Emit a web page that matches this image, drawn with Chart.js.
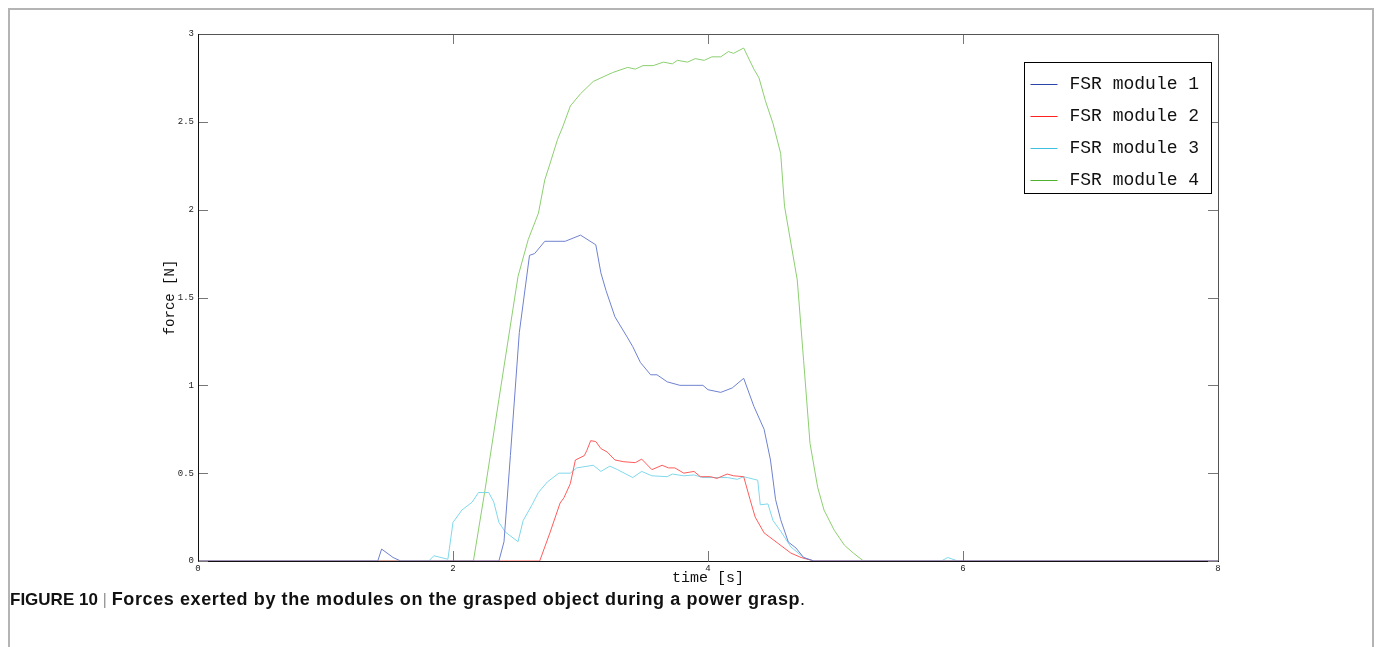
<!DOCTYPE html>
<html>
<head>
<meta charset="utf-8">
<title>FSR forces</title>
<script src="https://cdn.jsdelivr.net/npm/chart.js"></script>
<style>
  body { margin: 0; width: 1376px; height: 647px; overflow: hidden; background: #fff; position: relative; }
  #frame { position: absolute; left: 8px; top: 8px; width: 1362px; height: 650px;
           border-top: 2px solid #b4b4b4; border-left: 2px solid #b4b4b4; border-right: 2px solid #b4b4b4; }
  #plot { position: absolute; left: 0; top: 0; }
  #caption { position: absolute; left: 10px; top: 589px; font: bold 17px "Liberation Sans", Arial, sans-serif;
             color: #111; white-space: nowrap; }
  #caption .sep { font-weight: normal; color: #999; }
  #caption .txt { font-size: 18px; letter-spacing: 0.6px; }
  #caption .dot { font-weight: normal; font-size: 18px; }
</style>
</head>
<body>
<div id="frame"></div>
<canvas id="plot" width="1376" height="647"></canvas>
<div id="caption">FIGURE 10 <span class="sep">|</span> <span class="txt">Forces exerted by the modules on the grasped object during a power grasp</span><span class="dot">.</span></div>
<script>
// значения (время, с / сила, Н)
const seriesNames = ['FSR module 1', 'FSR module 2', 'FSR module 3', 'FSR module 4'];
const seriesColors = ['#6f82d0', '#ff5c5c', '#80d8ec', '#8ccf70'];
const legendColors = ['#2a45a8', '#ff2020', '#40c0e0', '#50b030'];
const xTicks = [0, 2, 4, 6, 8];
const yTicks = [0, 0.5, 1, 1.5, 2, 2.5, 3];

const time1 = [0, 1.41, 1.44, 1.53, 1.59, 2.36, 2.40, 2.45, 2.52, 2.60, 2.64, 2.72, 2.88, 3.00, 3.12, 3.16, 3.20,
  3.27, 3.37, 3.41, 3.47, 3.55, 3.60, 3.68, 3.78, 3.96, 4.00, 4.10, 4.19, 4.28, 4.36, 4.44, 4.49, 4.53, 4.57,
  4.63, 4.69, 4.75, 4.83, 8];
const force1 = [0, 0, 0.068, 0.02, 0, 0, 0.11, 0.6, 1.3, 1.74, 1.75, 1.82, 1.82, 1.855, 1.80, 1.64, 1.54,
  1.39, 1.27, 1.22, 1.13, 1.06, 1.06, 1.02, 1.0, 1.0, 0.975, 0.96, 0.985, 1.04, 0.88, 0.75, 0.575, 0.35, 0.235,
  0.108, 0.074, 0.02, 0, 0];

const time2 = [0, 2.68, 2.76, 2.84, 2.87, 2.92, 2.96, 3.03, 3.05, 3.08, 3.12, 3.16, 3.21, 3.27, 3.34, 3.43, 3.48,
  3.56, 3.64, 3.69, 3.74, 3.81, 3.89, 3.94, 4.02, 4.07, 4.15, 4.20, 4.28, 4.33, 4.37, 4.44, 4.55, 4.65, 4.73,
  4.83, 8];
const force2 = [0, 0, 0.16, 0.33, 0.36, 0.44, 0.575, 0.60, 0.63, 0.685, 0.68, 0.64, 0.62, 0.575, 0.565, 0.56, 0.58,
  0.52, 0.545, 0.53, 0.53, 0.50, 0.51, 0.48, 0.48, 0.47, 0.495, 0.485, 0.48, 0.35, 0.25, 0.16, 0.10, 0.045, 0.02,
  0, 0];

const time3 = [0, 1.81, 1.85, 1.96, 2.00, 2.07, 2.15, 2.20, 2.28, 2.32, 2.36, 2.41, 2.51, 2.55, 2.62, 2.67, 2.74,
  2.83, 2.92, 2.97, 3.10, 3.16, 3.23, 3.29, 3.41, 3.48, 3.56, 3.68, 3.72, 3.81, 3.89, 3.96, 4.15, 4.23, 4.28,
  4.39, 4.41, 4.47, 4.51, 4.57, 4.65, 4.75, 4.83, 5.83, 5.88, 5.96, 8];
const force3 = [0, 0, 0.03, 0.01, 0.22, 0.29, 0.335, 0.39, 0.39, 0.335, 0.22, 0.165, 0.11, 0.23, 0.32, 0.39, 0.45,
  0.50, 0.50, 0.53, 0.545, 0.51, 0.54, 0.52, 0.475, 0.51, 0.485, 0.48, 0.495, 0.485, 0.49, 0.475, 0.475, 0.465, 0.48,
  0.46, 0.32, 0.325, 0.23, 0.17, 0.08, 0.02, 0, 0, 0.02, 0, 0];

const time4 = [0, 2.16, 2.25, 2.36, 2.51, 2.59, 2.67, 2.72, 2.76, 2.82, 2.86, 2.92, 3.00, 3.10, 3.25, 3.37, 3.43,
  3.49, 3.57, 3.65, 3.72, 3.76, 3.84, 3.90, 3.97, 4.03, 4.10, 4.16, 4.20, 4.28, 4.36, 4.40, 4.45, 4.51, 4.57,
  4.60, 4.70, 4.75, 4.80, 4.86, 4.91, 4.99, 5.07, 5.14, 5.22, 8];
const force4 = [0, 0, 0.40, 0.92, 1.62, 1.83, 1.98, 2.17, 2.26, 2.40, 2.47, 2.59, 2.66, 2.73, 2.78, 2.81, 2.80,
  2.82, 2.82, 2.84, 2.83, 2.85, 2.84, 2.86, 2.85, 2.87, 2.87, 2.90, 2.89, 2.92, 2.80, 2.75, 2.62, 2.49, 2.32,
  2.02, 1.60, 1.14, 0.67, 0.42, 0.29, 0.175, 0.09, 0.045, 0, 0];

const times = [time1, time2, time3, time4];
const forces = [force1, force2, force3, force4];

const mono = '"Liberation Mono", "DejaVu Sans Mono", monospace';

// рамка осей, засечки внутрь и легенда
const boxPlugin = {
  id: 'boxPlugin',
  afterDraw(chart) {
    const ctx = chart.ctx;
    const a = chart.chartArea;
    const xs = chart.scales.x, ys = chart.scales.y;
    ctx.save();
    ctx.lineWidth = 1;
    ctx.strokeStyle = '#777';
    xTicks.forEach(v => {
      const px = Math.round(xs.getPixelForValue(v)) + 0.5;
      ctx.beginPath();
      ctx.moveTo(px, a.bottom); ctx.lineTo(px, a.bottom - 10);
      ctx.moveTo(px, a.top); ctx.lineTo(px, a.top + 10);
      ctx.stroke();
    });
    yTicks.forEach(v => {
      const py = Math.round(ys.getPixelForValue(v)) + 0.5;
      ctx.beginPath();
      ctx.moveTo(a.left, py); ctx.lineTo(a.left + 10, py);
      ctx.moveTo(a.right, py); ctx.lineTo(a.right - 10, py);
      ctx.stroke();
    });
    ctx.strokeStyle = '#555';
    ctx.beginPath();
    ctx.moveTo(a.left, a.top + 0.5); ctx.lineTo(a.right + 0.5, a.top + 0.5);
    ctx.lineTo(a.right + 0.5, a.bottom);
    ctx.stroke();
    ctx.strokeStyle = '#111';
    ctx.beginPath();
    ctx.moveTo(a.left + 0.5, a.top); ctx.lineTo(a.left + 0.5, a.bottom + 0.5);
    ctx.stroke();

    // легенда
    const lx = 1024.5, ly = 62.5, lw = 187, lh = 131;
    ctx.fillStyle = '#fff';
    ctx.fillRect(lx, ly, lw, lh);
    ctx.strokeStyle = '#000';
    ctx.strokeRect(lx, ly, lw, lh);
    ctx.font = '18px ' + mono;
    ctx.textBaseline = 'middle';
    chart.data.datasets.forEach((ds, i) => {
      const y = Math.round(ly + 21 + i * 32) + 0.5;
      ctx.strokeStyle = legendColors[i];
      ctx.beginPath();
      ctx.moveTo(lx + 6, y); ctx.lineTo(lx + 33, y);
      ctx.stroke();
      ctx.fillStyle = '#111';
      ctx.fillText(ds.label, lx + 45, y);
    });
    ctx.restore();
  }
};

new Chart(document.getElementById('plot'), {
  type: 'line',
  data: {
    datasets: seriesNames.map((name, i) => ({
      label: name,
      data: times[i].map((t, k) => ({ x: t, y: forces[i][k] })),
      borderColor: seriesColors[i],
      borderWidth: 1,
      pointRadius: 0,
      tension: 0,
      fill: false
    }))
  },
  options: {
    responsive: false,
    animation: false,
    layout: { padding: { left: 150, top: 34, right: 158, bottom: 56 } },
    plugins: { legend: { display: false }, tooltip: { enabled: false } },
    scales: {
      x: {
        type: 'linear', min: 0, max: 8,
        afterFit: s => { s.height = 30; },
        afterBuildTicks: s => { s.ticks = xTicks.map(v => ({ value: v })); },
        grid: { display: false, drawTicks: false },
        border: { display: true, color: '#111', width: 1 },
        ticks: { padding: 2, color: '#222', font: { family: mono, size: 9 }, callback: v => String(v) },
        title: { display: true, text: 'time [s]', color: '#111', padding: { top: 0, bottom: 4 },
                 font: { family: mono, size: 15 } }
      },
      y: {
        type: 'linear', min: 0, max: 3,
        afterFit: s => { s.width = 48; },
        afterBuildTicks: s => { s.ticks = yTicks.map(v => ({ value: v })); },
        grid: { display: false, drawTicks: false },
        border: { display: false },
        ticks: { padding: 4, color: '#222', font: { family: mono, size: 9 }, callback: v => String(v) },
        title: { display: true, text: 'force [N]', color: '#111', padding: { top: 12, bottom: 0 },
                 font: { family: mono, size: 14 } }
      }
    }
  },
  plugins: [boxPlugin]
});
</script>
</body>
</html>
